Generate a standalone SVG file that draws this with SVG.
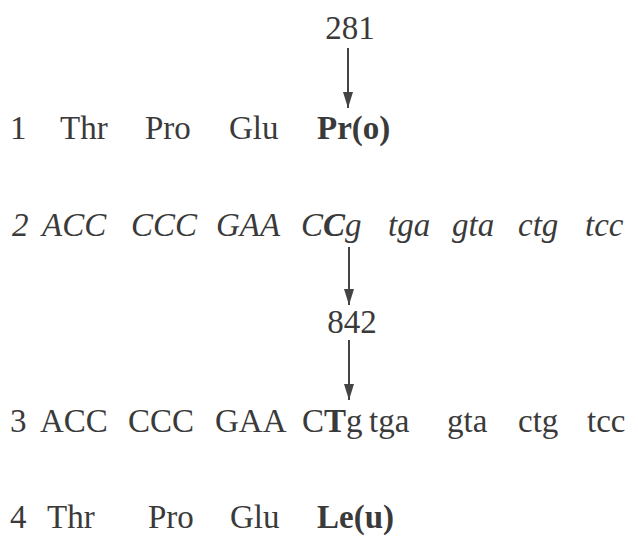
<svg xmlns="http://www.w3.org/2000/svg" width="638" height="536" viewBox="0 0 638 536">
  <style>
    text { font-family: "Liberation Serif", "Times New Roman", serif; font-size: 33px; fill: #3a3a3a; }
    .it { font-style: italic; }
    .b { font-weight: bold; }
    .arrow { stroke: #444; stroke-width: 2; fill: none; }
  </style>
  <defs>
    <marker id="head" markerWidth="16" markerHeight="10" refX="16" refY="5" orient="auto" markerUnits="userSpaceOnUse" viewBox="0 0 16 10">
      <path d="M0,0 L16,5 L0,10 Z" fill="#444"/>
    </marker>
  </defs>
  <rect width="638" height="536" fill="#ffffff"/>

  <!-- position labels -->
  <g id="label-281"><text x="350" y="39" text-anchor="middle">281</text></g>
  <g id="label-842"><text x="352" y="333" text-anchor="middle">842</text></g>

  <!-- row 1: protein -->
  <g id="row1">
    <text x="10" y="139">1</text>
    <text x="60" y="139">Thr</text>
    <text x="145" y="139">Pro</text>
    <text x="229" y="139">Glu</text>
    <text x="317" y="139" class="b">Pr(o)</text>
  </g>

  <!-- row 2: original sequence -->
  <g id="row2">
    <text x="12" y="236" class="it">2</text>
    <text x="42" y="236" class="it">ACC</text>
    <text x="131" y="236" class="it">CCC</text>
    <text x="216" y="236" class="it">GAA</text>
    <text x="301" y="236" class="it">C<tspan class="b">C</tspan>g</text>
    <text x="388" y="236" class="it">tga</text>
    <text x="452" y="236" class="it">gta</text>
    <text x="518" y="236" class="it">ctg</text>
    <text x="585" y="236" class="it">tcc</text>
  </g>

  <!-- row 3: mutated sequence -->
  <g id="row3">
    <text x="10" y="432">3</text>
    <text x="40" y="432">ACC</text>
    <text x="128" y="432">CCC</text>
    <text x="215" y="432">GAA</text>
    <text x="302" y="432">C<tspan class="b">T</tspan>g</text>
    <text x="369" y="432">tga</text>
    <text x="447" y="432">gta</text>
    <text x="518" y="432">ctg</text>
    <text x="587" y="432">tcc</text>
  </g>

  <!-- row 4: protein -->
  <g id="row4">
    <text x="10" y="528">4</text>
    <text x="47" y="528">Thr</text>
    <text x="148" y="528">Pro</text>
    <text x="230" y="528">Glu</text>
    <text x="317" y="528" class="b">Le(u)</text>
  </g>

  <!-- connectors -->
  <g id="connectors">
    <line class="arrow" x1="348" y1="48" x2="348" y2="108" marker-end="url(#head)"/>
    <line class="arrow" x1="349" y1="247" x2="349" y2="305" marker-end="url(#head)"/>
    <line class="arrow" x1="349" y1="340" x2="349" y2="400" marker-end="url(#head)"/>
  </g>
</svg>
